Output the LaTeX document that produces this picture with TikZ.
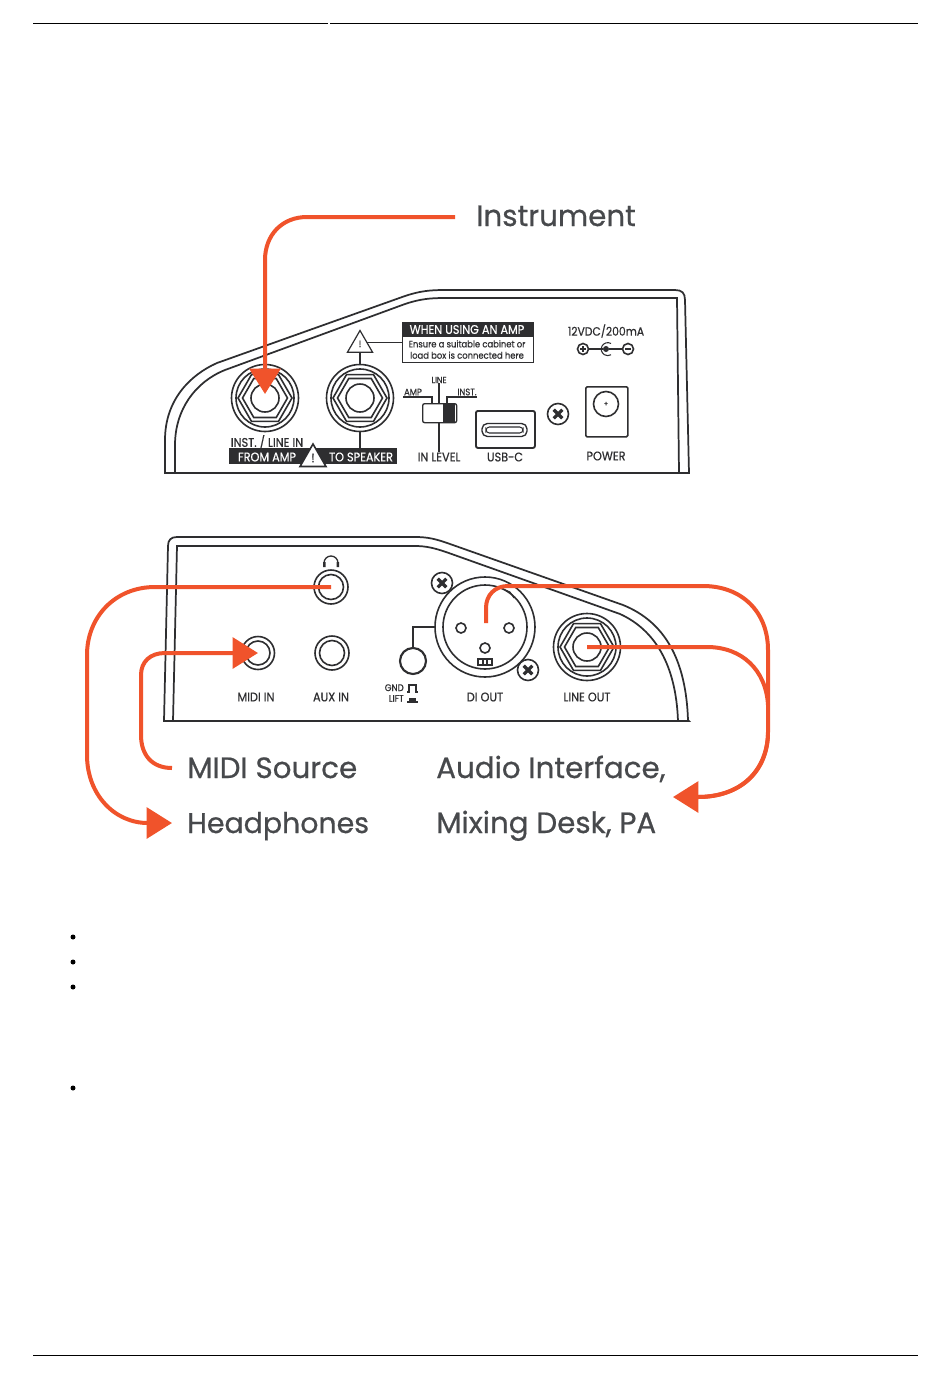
\documentclass[tikz,border=0pt]{standalone}
\usepackage{fontspec}
\usetikzlibrary{arrows.meta,shapes.geometric}
\newfontfamily\bigfont[FakeBold=0.6]{Poppins}
\newfontfamily\panelfont[FakeStretch=0.9,FakeBold=0.5]{Poppins}
\definecolor{wireorange}{HTML}{F0532B}
\definecolor{panelgray}{HTML}{2E2E30}
\definecolor{labelgray}{HTML}{47494C}
\def\px{0.75pt}
\tikzset{
  panelline/.style={draw=panelgray, line width=1.3pt},
  thinline/.style={draw=panelgray, line width=0.8pt},
  ring/.style={circle, draw=panelgray, line width=1.2pt, inner sep=0pt, minimum size=#1*\px},
  hexa/.style={regular polygon, regular polygon sides=6, draw=panelgray, line width=1.2pt, inner sep=0pt, minimum size=#1*\px},
  warntri/.style={regular polygon, regular polygon sides=3, draw=panelgray, fill=white, line width=0.9pt, inner sep=0pt, minimum size=#1*\px},
  paneltext/.style={font=\panelfont\fontsize{9.4}{10}\selectfont, text=panelgray, inner sep=0pt},
  inverttext/.style={font=\panelfont\fontsize{9.4}{10}\selectfont, text=white, inner sep=0pt},
  bigtext/.style={font=\bigfont\fontsize{22}{24}\selectfont, text=labelgray, inner sep=0pt, anchor=base west},
  wire/.style={draw=wireorange, line width=3pt},
  wirearrow/.style={wire, -{Triangle[length=19pt,width=23pt]}},
  bullet/.style={circle, fill=black, inner sep=0pt, minimum size=5*\px},
}
% quarter inch jack with hexagon nut
\newcommand{\hexjack}[2]{
  \node[ring=67] (#1) at (#2) {};
  \node[ring=58] at (#1) {};
  \node[hexa=54] at (#1) {};
  \node[hexa=45] at (#1) {};
  \node[ring=28] at (#1) {};
}
% small round jack
\newcommand{\minijack}[3]{
  \node[ring=#3] (#1) at (#2) {};
  \node[ring=(#3-9)] at (#1) {};
}
% panel screw
\newcommand{\screwhead}[1]{
  \node[ring=21] (s) at (#1) {};
  \draw[panelgray, line width=2.4pt] ([shift={(-3.2pt,-3.2pt)}]s.center) -- ([shift={(3.2pt,3.2pt)}]s.center);
  \draw[panelgray, line width=2.4pt] ([shift={(-3.2pt,3.2pt)}]s.center) -- ([shift={(3.2pt,-3.2pt)}]s.center);
}
\begin{document}
\begin{tikzpicture}[x=0.75pt, y=-0.75pt]
  \useasboundingbox[fill=white] (0,0) rectangle (950,1378);

  % Page rules
  \draw[black, line width=0.7pt] (33,23) -- (328,23);
  \draw[black, line width=0.7pt] (330,23) -- (918,23);
  \draw[black, line width=0.7pt] (33,1355) -- (918,1355);

  % Top panel outline
  \draw[panelline] (165,473) -- (165,440) .. controls (165,400) and (190,375) .. (217,363)
    -- (405,296) .. controls (420,291) and (430,290) .. (445,290) -- (675,290)
    .. controls (682,290) and (685,293) .. (685,300) -- (689,473) -- cycle;
  \draw[panelline] (175,473) -- (175,445) .. controls (175,410) and (195,382) .. (225,370)
    -- (405,304) .. controls (420,299) and (430,298) .. (445,298) -- (677,298) -- (679,473);

  % Top panel jacks
  \hexjack{instjack}{265,398}
  \hexjack{speakerjack}{360,398}
  \node[warntri=29] (warnamp) at (360,345) {};
  \node[paneltext, font=\panelfont\fontsize{7}{7}\selectfont] at (360,344) {!};
  \node[draw=panelgray, fill=white, line width=1pt, minimum width=131*\px, minimum height=40*\px, inner sep=0pt, anchor=north west] (ampbox) at (402,322) {};
  \node[fill=panelgray, minimum width=131*\px, minimum height=15*\px, inner sep=0pt, anchor=north west] (ampheader) at (402,322) {};
  \node[inverttext] at (467,329.5) {WHEN USING AN AMP};
  \node[paneltext, font=\panelfont\fontsize{7}{8}\selectfont, align=center] at (467,349.5) {Ensure a suitable cabinet or\\[0.5pt]load box is connected here};
  \draw[thinline] (ampbox.west) -- ([xshift=-1.5pt]ampbox.west -| warnamp.east);
  \draw[thinline] (speakerjack) ++(0,-33) -- (warnamp.south);

  % Label bar under the jacks
  \node[fill=panelgray, minimum width=168*\px, minimum height=16*\px, inner sep=0pt, anchor=north west] (ampbar) at (229,448) {};
  \node[inverttext] at (267,457) {FROM AMP};
  \node[inverttext] at (361,457) {TO SPEAKER};
  \node[warntri=30, line width=1.2pt] (warnbar) at (313,459) {};
  \node[paneltext] at (313,458) {!};
  \node[paneltext] at (267,442) {INST. / LINE IN};
  \draw[thinline] (360,431) -- (360,448);

  % Level switch
  \node[draw=panelgray, fill=white, rounded corners=1.5pt, line width=1pt, minimum width=34*\px, minimum height=19*\px, inner sep=0pt, anchor=north west] (levelswitch) at (422,403) {};
  \fill[panelgray] (443,403) rectangle (455,422);
  \node[paneltext, font=\panelfont\fontsize{6.6}{7}\selectfont] (linetext) at (439,380) {LINE};
  \node[paneltext, font=\panelfont\fontsize{7}{7}\selectfont] at (413,392) {AMP};
  \node[paneltext, font=\panelfont\fontsize{7}{7}\selectfont] at (467,392) {INST.};
  \node[paneltext] (leveltext) at (439,457) {IN LEVEL};
  \draw[thinline] (linetext.south) -- (439,403);
  \draw[thinline] (439,422) -- (leveltext.north);
  \draw[thinline] (403,397) -- (432,397) -- (432,403);
  \draw[thinline] (477,397) -- (447,397) -- (447,403);

  % USB-C
  \node[draw=panelgray, rounded corners=1.5pt, line width=1.4pt, minimum width=59*\px, minimum height=37*\px, inner sep=0pt, anchor=north west] (usbport) at (475,410) {};
  \node[draw=panelgray, rounded corners=4pt, line width=1pt, minimum width=45*\px, minimum height=13*\px, inner sep=0pt] at (504.5,430) {};
  \node[draw=panelgray, rounded corners=2.5pt, line width=0.8pt, minimum width=37*\px, minimum height=6*\px, inner sep=0pt] at (504.5,430) {};
  \node[paneltext] at (505,457) {USB-C};
  \screwhead{558,414}

  % Power
  \node[draw=panelgray, rounded corners=1pt, line width=1.2pt, minimum width=42*\px, minimum height=50*\px, inner sep=0pt, anchor=north west] (powerbox) at (585,386) {};
  \node[ring=25] (powerjack) at (606,404) {};
  \node[paneltext, font=\panelfont\fontsize{5}{5}\selectfont] at (606,404) {+};
  \node[paneltext] at (606,456) {POWER};
  \node[paneltext, font=\panelfont\fontsize{9}{10}\selectfont] at (606,331) {12VDC/200mA};
  \node[ring=11] (dcplus) at (583,349) {};
  \node[ring=11] (dcminus) at (628,349) {};
  \node[circle, fill=panelgray, inner sep=0pt, minimum size=6*\px] (dcpin) at (606,349) {};
  \draw[thinline] (611,343.5) arc (-60:-300:6.5);
  \draw[thinline] (dcplus) -- (dcpin);
  \draw[thinline] (dcpin) -- (dcminus);
  \draw[thinline] (580,349) -- (586,349) (583,346) -- (583,352);
  \draw[thinline] (625,349) -- (631,349);

  % Bottom panel outline
  \draw[panelline] (164,721) -- (168,546) .. controls (168,540) and (171,537) .. (177,537)
    -- (415,537) .. controls (428,537) and (436,539) .. (450,544) -- (623,605)
    .. controls (665,622) and (686,660) .. (688,720) -- (689,721) -- cycle;
  \draw[panelline] (173,721) -- (177,546) -- (415,546) .. controls (426,546) and (434,548) .. (446,552)
    -- (620,614) .. controls (655,630) and (676,665) .. (678,721);

  % Bottom panel jacks
  \minijack{hpjack}{331,587}{34}
  \draw[panelgray, line width=1pt] (324,563) arc (180:360:7);
  \fill[panelgray] (323,562) rectangle (325.5,567) (336.5,562) rectangle (339,567);
  \minijack{midijack}{258,653}{33}
  \minijack{auxjack}{332,653}{34}
  \node[paneltext] at (256,697) {MIDI IN};
  \node[paneltext] at (331,697) {AUX IN};

  % Ground lift
  \node[circle, draw=panelgray, line width=1.6pt, inner sep=0pt, minimum size=26*\px] (gndswitch) at (413,661) {};
  \node[paneltext, font=\panelfont\fontsize{7.2}{8}\selectfont, align=right, anchor=east] at (404,693) {GND\\LIFT};
  \draw[thinline] (407,692) -- (409,692) -- (409,685) -- (416,685) -- (416,692) -- (418,692);
  \draw[thinline] (407,702) -- (418,702);
  \fill[panelgray] (409,698) rectangle (416,701);

  % DI out
  \node[ring=100] (dijack) at (485,627) {};
  \node[ring=84] at (dijack) {};
  \node[ring=10] at (461,628) {};
  \node[ring=10] at (509,628) {};
  \node[ring=10] at (485,648) {};
  \draw[thinline] (478,659) rectangle (492,665);
  \draw[thinline] (483,659) -- (483,665) (487,659) -- (487,665);
  \draw[thinline] (503,589) -- (510,592) -- (514,598);
  \draw[thinline] (gndswitch) |- (dijack.west);
  \screwhead{442,583}
  \screwhead{528,670}
  \node[paneltext] at (485,697) {DI OUT};

  % Line out
  \hexjack{linejack}{587,647}
  \node[paneltext] at (587,697) {LINE OUT};

  % Big labels
  \node[bigtext] (instrtext) at (476,226) {Instrument};
  \node[bigtext] (miditext) at (187,778) {MIDI Source};
  \node[bigtext, font=\bigfont\fontsize{21.3}{24}\selectfont] (hptext) at (187,833) {Headphones};
  \node[bigtext] (audiotext) at (436,778) {Audio Interface,};
  \node[bigtext] (mixtext) at (436,833) {Mixing Desk, PA};

  % Free ends of the wires
  \coordinate (instrstart) at (455,217);
  \coordinate (midistart) at (172,768);
  \coordinate (hptip) at (172,823);
  \coordinate (audiotip) at (673,797);
  \coordinate (distart) at (486,623);

  % Orange wires
  \draw[wirearrow, shorten >=3pt] (instrstart) -- (307,217) .. controls (282,217) and (265,235) .. (265,260) -- (instjack.center);
  \draw[wirearrow] (hpjack.center) -- (155,587) .. controls (115,587) and (87,617) .. (87,655)
    -- (87,755) .. controls (87,795) and (115,823) .. (hptip);
  \draw[wirearrow] (midistart) .. controls (152,768) and (141,755) .. (141,735) -- (141,675)
    .. controls (141,662) and (150,653) .. (165,653) -- (midijack.center);
  \draw[wire] (distart) -- (486,608) .. controls (486,595) and (495,586) .. (508,586) -- (703,586)
    .. controls (742,586) and (768,612) .. (768,650) -- (768,732)
    .. controls (768,772) and (740,797) .. (698,797);
  \draw[wirearrow] (768,735) .. controls (766,772) and (740,797) .. (audiotip);
  \draw[wire] (linejack.center) -- (707,647) .. controls (742,647) and (766,670) .. (768,705);

  % Bullets
  \foreach \name/\ypos in {one/937,two/962,three/987,four/1088} {
    \node[bullet] (bullet\name) at (73,\ypos) {};
  }
\end{tikzpicture}
\end{document}
